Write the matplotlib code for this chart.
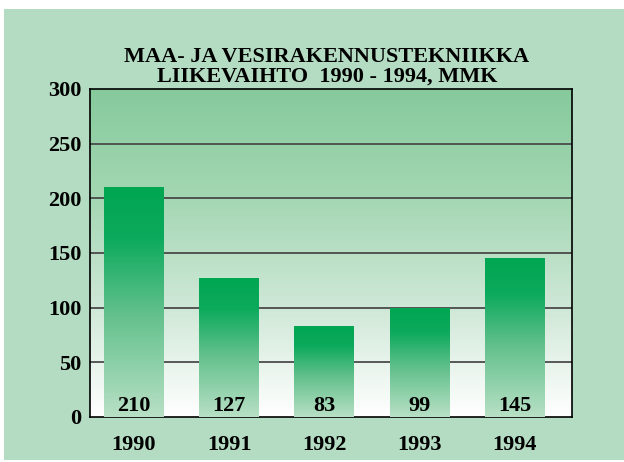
import matplotlib
matplotlib.use("Agg")
import matplotlib.pyplot as plt
import numpy as np
from matplotlib.colors import LinearSegmentedColormap
from matplotlib.patches import Rectangle

# data
years = ["1990", "1991", "1992", "1993", "1994"]
values = [210, 127, 83, 99, 145]
y_ticks = [0, 50, 100, 150, 200, 250, 300]
title = "MAA- JA VESIRAKENNUSTEKNIIKKA\nLIIKEVAIHTO  1990 - 1994, MMK"

plt.rcParams["font.family"] = ["Liberation Serif", "DejaVu Serif"]
plt.rcParams["font.weight"] = "bold"

W, H = 624, 462
fig = plt.figure(figsize=(W / 100, H / 100), dpi=100, facecolor="white")
fig.add_artist(Rectangle((4 / W, 2 / H), 620 / W, 451 / H, transform=fig.transFigure,
                         facecolor="#b4dcc2", edgecolor="none", zorder=-5))

ax = fig.add_axes([90 / W, (H - 417) / H, 482 / W, 328 / H])
ax.set_zorder(1)
xpos = np.arange(len(years))
ax.set_xlim(-0.462, 4.6)
ax.set_ylim(0, 300)

# axes background gradient (white at bottom, green at top)
bg_cmap = LinearSegmentedColormap.from_list("bg", ["#ffffff", "#cfe8d7", "#a4d7b3", "#86ca9c"])
grad = np.linspace(0, 1, 256).reshape(-1, 1)
ax.imshow(grad, cmap=bg_cmap, origin="lower", aspect="auto",
          extent=[-0.462, 4.6, 0, 300], zorder=0)

for t in y_ticks[1:-1]:
    ax.axhline(t, color="#4a4a4a", linewidth=1.3, zorder=1)

bar_cmap = LinearSegmentedColormap.from_list(
    "bar", [(0.0, "#b8e0c5"), (0.45, "#62c08c"), (0.78, "#0caa5c"), (1.0, "#00a651")])
bars = ax.bar(xpos, values, width=0.63, color="none", edgecolor="none", zorder=2)
for b, v in zip(bars, values):
    x0 = b.get_x()
    ax.imshow(grad, cmap=bar_cmap, origin="lower", aspect="auto",
              extent=[x0, x0 + b.get_width(), 0, b.get_height()], zorder=2)
    ax.text(b.get_x() + b.get_width() / 2, 10, str(v), ha="center", va="center",
            fontsize=16, fontweight="bold", zorder=3)

ax.set_xlim(-0.462, 4.6)
ax.set_ylim(0, 300)

for s in ax.spines.values():
    s.set_color("black")
    s.set_linewidth(1.2)
ax.spines["bottom"].set_zorder(1)

ax.set_yticks(y_ticks)
ax.set_xticks(xpos)
ax.set_xticklabels(years)
ax.tick_params(length=0, labelsize=16)
ax.tick_params(axis="y", pad=6)
ax.tick_params(axis="x", pad=13)

fig.text(327 / W, 1 - 67 / H, title, ha="center", va="center", fontsize=16,
         fontweight="bold", linespacing=1.0)

fig.savefig("out.png", dpi=100, facecolor="white")
